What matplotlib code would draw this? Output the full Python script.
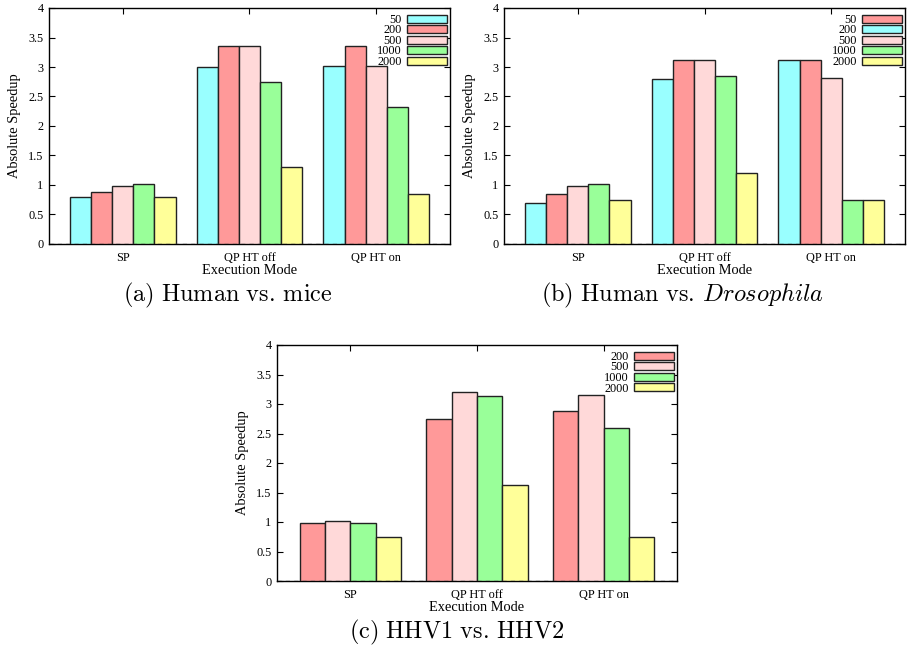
import matplotlib.pyplot as plt
import numpy as np

modes = ["SP", "QP HT off", "QP HT on"]

sizes_ab = ["50", "200", "500", "1000", "2000"]
sizes_c = ["200", "500", "1000", "2000"]

# speedup per window size, one list per execution mode
mice = {
    "50": [0.79, 3.00, 3.02],
    "200": [0.88, 3.35, 3.35],
    "500": [0.98, 3.35, 3.02],
    "1000": [1.02, 2.74, 2.33],
    "2000": [0.79, 1.30, 0.84],
}
drosophila = {
    "50": [0.70, 2.79, 3.12],
    "200": [0.84, 3.12, 3.12],
    "500": [0.98, 3.12, 2.82],
    "1000": [1.02, 2.84, 0.74],
    "2000": [0.74, 1.21, 0.74],
}
hhv = {
    "200": [0.98, 2.74, 2.88],
    "500": [1.02, 3.21, 3.16],
    "1000": [0.98, 3.14, 2.60],
    "2000": [0.74, 1.63, 0.74],
}

CYAN = "#99ffff"
RED = "#ff9999"
PINK = "#ffd9d9"
GREEN = "#99ff99"
YELLOW = "#ffff99"

plt.rcParams["font.family"] = ["Liberation Serif", "DejaVu Serif"]
plt.rcParams["mathtext.fontset"] = "cm"

fig = plt.figure(figsize=(9.09, 6.46), dpi=100)
W, H = 909, 646


def px_axes(left, top, right, bottom):
    return fig.add_axes([left / W, 1 - bottom / H, (right - left) / W, (bottom - top) / H])


def draw_panel(ax, sizes, data, bar_colors, legend_colors):
    n = len(sizes)
    group_w = 0.835 if n == 5 else 0.8
    bw = group_w / n
    x = np.arange(len(modes))
    for i, s in enumerate(sizes):
        offs = -group_w / 2 + bw * (i + 0.5)
        ax.bar(x + offs, data[s], width=bw, color=bar_colors[i],
               edgecolor="#222222", linewidth=1.0, zorder=3)
    handles = [plt.Rectangle((0, 0), 1, 1, facecolor=c, edgecolor="#222222", linewidth=1.0)
               for c in legend_colors]
    ax.legend(handles, sizes, loc="upper right", bbox_to_anchor=(0.993, 0.975),
              frameon=False, markerfirst=False, fontsize=8.8, handlelength=3.3,
              handleheight=0.65, labelspacing=-0.12, handletextpad=0.4,
              borderpad=0.0, borderaxespad=0.0)
    ax.set_xlim(-0.58, 2.58)
    ax.set_ylim(0, 4)
    ax.set_xticks(x)
    ax.set_xticklabels(modes, fontsize=8.8)
    ax.set_yticks(np.arange(0, 4.01, 0.5))
    ax.set_yticklabels(["0", "0.5", "1", "1.5", "2", "2.5", "3", "3.5", "4"], fontsize=8.8)
    ax.tick_params(axis="x", pad=6)
    ax.tick_params(direction="in", length=4, width=0.8, top=True, right=True)
    ax.tick_params(axis="y", pad=4)
    ax.axhline(0, color="#555555", linewidth=1.0, linestyle=(0, (3, 3)), zorder=4)
    for sp in ax.spines.values():
        sp.set_linewidth(1.0)
    ax.set_xlabel("Execution Mode", fontsize=10.4, labelpad=0)
    ax.set_ylabel("Absolute Speedup", fontsize=10.4, labelpad=5)


ax_a = px_axes(49, 8, 450, 244)
draw_panel(ax_a, sizes_ab, mice,
           [CYAN, RED, PINK, GREEN, YELLOW], [CYAN, RED, PINK, GREEN, YELLOW])

ax_b = px_axes(504, 8, 905, 244)
draw_panel(ax_b, sizes_ab, drosophila,
           [CYAN, RED, PINK, GREEN, YELLOW], [RED, CYAN, PINK, GREEN, YELLOW])

ax_c = px_axes(277, 345, 677, 581)
draw_panel(ax_c, sizes_c, hhv,
           [RED, PINK, GREEN, YELLOW], [RED, PINK, GREEN, YELLOW])

fig.text(228 / W, 1 - 295 / H, r"$\mathrm{(a)\ Human\ vs.\!\ mice}$",
         ha="center", va="center", fontsize=17.5)
fig.text(683 / W, 1 - 295 / H, r"$\mathrm{(b)\ Human\ vs.\!\ }\mathit{Drosophila}$",
         ha="center", va="center", fontsize=17.5)
fig.text(457 / W, 1 - 632 / H, r"$\mathrm{(c)\ HHV1\ vs.\!\ HHV2}$",
         ha="center", va="center", fontsize=17.5)

fig.savefig("out.png", dpi=100)
